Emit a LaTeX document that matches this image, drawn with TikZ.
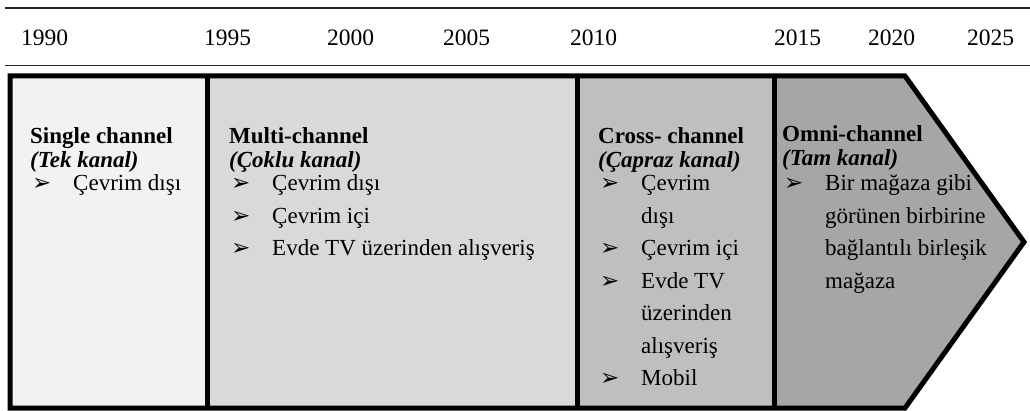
\documentclass[tikz,border=0pt]{standalone}
\usepackage{fontspec}
\setmainfont{Liberation Serif}
\newfontfamily\bulfont{DejaVu Sans}
\usetikzlibrary{positioning}

\definecolor{chone}{HTML}{F2F2F2}
\definecolor{chtwo}{HTML}{D9D9D9}
\definecolor{chthree}{HTML}{BFBFBF}
\definecolor{chfour}{HTML}{A6A6A6}

\newcommand{\bul}{\makebox[43pt][l]{\hspace*{2pt}\bulfont\fontsize{23}{23}\selectfont ➢}}
\newcommand{\cont}{\hspace*{43pt}}

\begin{document}
\begin{tikzpicture}[x=1pt, y=-1pt,
  year/.style={anchor=base west, inner sep=0pt, font=\fontsize{23.5}{28}\selectfont},
  rule/.style={draw=black!85, line width=1.2pt},
  panel/.style={draw=black, line width=5pt, line join=miter},
  txt/.style={anchor=base west, inner sep=0pt, font=\fontsize{23}{32.5}\selectfont},
]
\useasboundingbox (0,0) rectangle (1030,411);

% === Year header ===
\draw[rule] (5,8) -- (1030,8);
\draw[rule] (5,65.5) -- (1030,65.5);
\foreach \yr/\xx in {1990/21, 1995/204, 2000/327, 2005/443, 2010/570, 2015/774, 2020/868, 2025/967}
  \node[year] (y\yr) at (\xx,45.5) {\yr};

% === Channel panels ===
\fill[chone] (10,76) rectangle (207,408);
\fill[chtwo] (207,76) rectangle (577,408);
\fill[chthree] (577,76) rectangle (774,408);
\fill[chfour] (774,76) -- (905,76) -- (1024,242) -- (905,408) -- (774,408) -- cycle;
\draw[panel] (10,76) -- (905,76) -- (1024,242) -- (905,408) -- (10,408) -- cycle;
\draw[panel] (207,76) -- (207,408);
\draw[panel] (577,76) -- (577,408);
\draw[panel] (774,76) -- (774,408);

% === Panel texts ===
\node[txt] (single) at (30,144) {\parbox[t]{175pt}{%
  \textbf{Single channel}\\[-8.5pt]
  \textbf{\textit{(Tek kanal)}}\\[-9.5pt]
  \bul Çevrim dışı}};

\node[txt] (multi) at (229,144) {\parbox[t]{340pt}{%
  \textbf{Multi-channel}\\[-8.5pt]
  \textbf{\textit{(Çoklu kanal)}}\\[-9.5pt]
  \bul Çevrim dışı\\
  \bul Çevrim içi\\
  \bul Evde TV üzerinden alışveriş}};

\node[txt] (cross) at (598,144) {\parbox[t]{175pt}{%
  \textbf{Cross- channel}\\[-8.5pt]
  \textbf{\textit{(Çapraz kanal)}}\\[-9.5pt]
  \bul Çevrim\\
  \cont dışı\\
  \bul Çevrim içi\\
  \bul Evde TV\\
  \cont üzerinden\\
  \cont alışveriş\\
  \bul Mobil}};

\node[txt] (omni) at (782,142) {\parbox[t]{240pt}{%
  \textbf{Omni-channel}\\[-8.5pt]
  \textbf{\textit{(Tam kanal)}}\\[-7.5pt]
  \bul Bir mağaza gibi\\
  \cont görünen birbirine\\
  \cont bağlantılı birleşik\\
  \cont mağaza}};

\end{tikzpicture}
\end{document}
